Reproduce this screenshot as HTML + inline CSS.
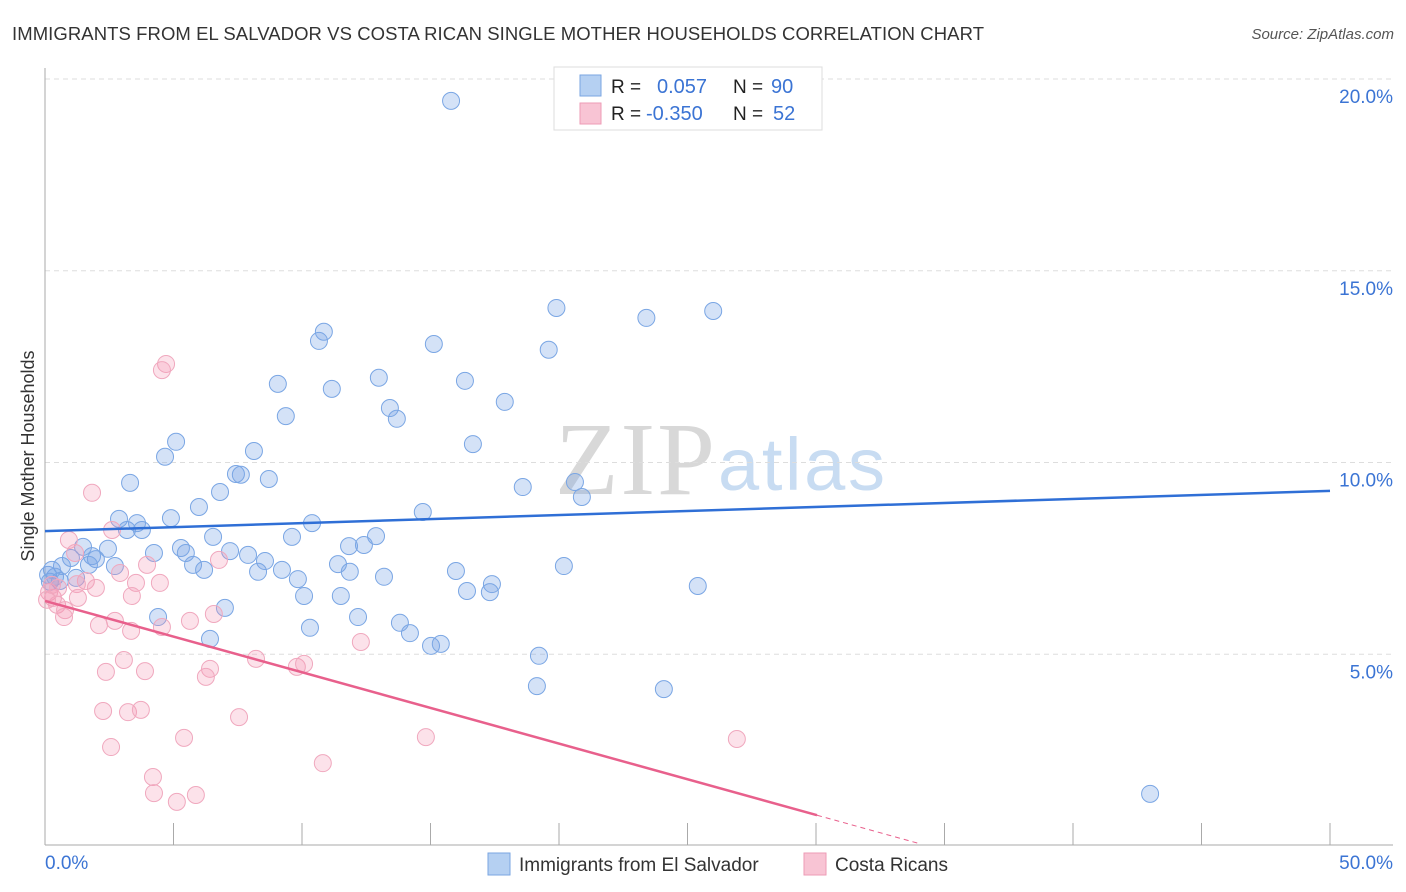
<!DOCTYPE html>
<html><head><meta charset="utf-8">
<style>
body{margin:0;background:#fff;font-family:"Liberation Sans",sans-serif;}
svg{display:block}
</style></head>
<body>
<svg id="chart" width="1406" height="892">
<text x="12" y="40" font-size="18.5" fill="#333" textLength="972">IMMIGRANTS FROM EL SALVADOR VS COSTA RICAN SINGLE MOTHER HOUSEHOLDS CORRELATION CHART</text>
<text x="1394" y="39" font-size="15" fill="#555" font-style="italic" text-anchor="end">Source: ZipAtlas.com</text>
<text x="0" y="0" transform="translate(34,456) rotate(-90)" font-size="18" fill="#333" text-anchor="middle">Single Mother Households</text>
<text x="555" y="494" font-size="104" font-family="Liberation Serif,serif" fill="#d8d8d8" textLength="160">ZIP</text>
<text x="718" y="490" font-size="74" fill="#c8dcf2" textLength="167">atlas</text>
<g id="grid"></g><g id="axes"></g><g id="pts"></g><g id="lines"></g>
<g>
<rect x="554" y="67" width="268" height="63" fill="#fff" stroke="#ddd"/>
<rect x="580" y="75" width="21" height="21" fill="#b5d0f2" stroke="#7aa6e2"/>
<rect x="580" y="103" width="21" height="21" fill="#f8c4d4" stroke="#ee9bb6"/>
<text x="611" y="93" font-size="19" fill="#222">R =</text><text x="657" y="93" font-size="20" fill="#3b74d4">0.057</text>
<text x="733" y="93" font-size="19" fill="#222">N =</text><text x="771" y="93" font-size="20" fill="#3b74d4">90</text>
<text x="611" y="120" font-size="19" fill="#222">R =</text><text x="646" y="120" font-size="20" fill="#3b74d4">-0.350</text>
<text x="733" y="120" font-size="19" fill="#222">N =</text><text x="773" y="120" font-size="20" fill="#3b74d4">52</text>
</g>
<g>
<rect x="488" y="853" width="22" height="22" fill="#b5d0f2" stroke="#7aa6e2"/>
<text x="519" y="871" font-size="19" fill="#333">Immigrants from El Salvador</text>
<rect x="804" y="853" width="22" height="22" fill="#f8c4d4" stroke="#ee9bb6"/>
<text x="835" y="871" font-size="19" fill="#333">Costa Ricans</text>
</g>
</svg>
<script>
const xTicks=[0,5,10,15,20,25,30,35,40,45,50];
const yTicks=[5,10,15,20];
const blueX=[15.8,19.9,23.4,26.0,10.85,10.66,15.13,19.6,9.06,12.99,16.34,11.16,13.42,17.89,9.37,13.69,5.1,16.65,4.67,8.13,7.43,7.62,3.31,8.71,6.81,18.59,20.62,20.89,5.99,14.7,2.88,3.58,4.9,10.39,3.19,3.77,6.54,9.61,12.88,12.41,11.83,2.45,5.29,4.24,7.2,7.9,5.48,1.01,1.98,1.83,1.48,0.66,1.71,2.72,5.76,6.19,8.56,9.22,11.4,8.29,11.86,20.19,15.99,9.84,13.19,17.39,16.42,17.31,25.4,10.08,11.51,1.21,0.39,0.58,0.19,0.12,0.27,7.0,4.4,12.18,13.81,14.2,10.31,6.42,15.02,15.4,19.22,19.14,24.08,43.0];
const blueY=[19.43,14.03,13.77,13.95,13.41,13.17,13.09,12.94,12.05,12.21,12.13,11.92,11.42,11.58,11.21,11.14,10.54,10.48,10.15,10.3,9.7,9.68,9.47,9.57,9.23,9.36,9.49,9.1,8.84,8.71,8.53,8.42,8.55,8.42,8.24,8.24,8.06,8.06,8.08,7.85,7.82,7.75,7.77,7.64,7.69,7.59,7.64,7.51,7.48,7.56,7.8,7.3,7.33,7.3,7.33,7.2,7.43,7.2,7.35,7.15,7.15,7.3,7.17,6.96,7.02,6.83,6.65,6.62,6.78,6.52,6.52,6.99,7.02,6.91,6.89,7.07,7.2,6.21,5.97,5.97,5.82,5.55,5.69,5.4,5.22,5.27,4.96,4.17,4.09,1.36];
const pinkX=[4.71,4.55,1.83,0.93,2.61,1.17,3.97,2.92,1.59,1.24,4.47,3.54,1.98,6.77,0.16,0.31,0.47,0.78,0.74,1.28,3.38,2.1,2.72,3.35,4.55,5.64,6.57,12.29,3.07,3.89,2.37,6.42,6.26,8.21,9.8,10.08,2.26,3.23,3.73,7.55,5.41,2.57,14.82,26.92,10.81,4.2,4.24,5.87,5.13,0.27,0.08,0.51];
const pinkY=[12.57,12.41,9.21,7.98,8.24,7.64,7.33,7.12,6.91,6.83,6.86,6.86,6.73,7.46,6.62,6.47,6.29,6.15,5.97,6.47,6.52,5.76,5.87,5.61,5.71,5.87,6.05,5.32,4.85,4.56,4.54,4.62,4.41,4.88,4.67,4.75,3.52,3.49,3.55,3.36,2.82,2.58,2.84,2.79,2.16,1.8,1.38,1.33,1.15,6.81,6.42,6.73];
const blueTrend=[8.21,9.26];   // y at x=0 and x=50
const pinkTrend=[6.39,-0.186]; // intercept, slope
const pinkSolidEnd=30.04, pinkDashEnd=34.05;

const X0=45,X1=1330,Y0=846,PY=38.35;
const sx=v=>X0+(X1-X0)*v/50, sy=v=>Y0-v*PY;
const NS='http://www.w3.org/2000/svg';
function mk(p,t,a){const e=document.createElementNS(NS,t);for(const k in a)e.setAttribute(k,a[k]);p.appendChild(e);return e;}
const grid=document.getElementById('grid'),axes=document.getElementById('axes'),pts=document.getElementById('pts'),lines=document.getElementById('lines');
yTicks.forEach(t=>{
 const l=mk(grid,'line',{x1:X0,x2:1393,y1:sy(t),y2:sy(t),stroke:'#ddd','stroke-dasharray':'5,4'});
 
 
 const tx=mk(grid,'text',{x:1393,y:sy(t)+24,'font-size':19,fill:'#3b74d4','text-anchor':'end'});
 tx.textContent=t.toFixed(1)+'%';
 
 
});
mk(axes,'line',{x1:X0,x2:X0,y1:68,y2:845,stroke:'#aaa'});
mk(axes,'line',{x1:X0,x2:1393,y1:845,y2:845,stroke:'#aaa'});
xTicks.forEach((t,i)=>{
 if(i>0){const l=mk(axes,'line',{x1:sx(t),x2:sx(t),y1:823,y2:845,stroke:'#aaa'});
 
 }
});
[[0,'start',45],[50,'end',1393]].forEach(([t,a,x])=>{
 const tx=mk(axes,'text',{x:x,y:869,'font-size':19,fill:'#3b74d4','text-anchor':a});
 tx.textContent=t.toFixed(1)+'%';
 
 
});
blueX.forEach((v,i)=>{
 const c=mk(pts,'circle',{cx:sx(v),cy:sy(blueY[i]),r:8.5,fill:'rgba(120,165,230,0.32)',stroke:'#7aa6e4','stroke-width':1});
 
 
});
pinkX.forEach((v,i)=>{
 const c=mk(pts,'circle',{cx:sx(v),cy:sy(pinkY[i]),r:8.5,fill:'rgba(245,150,180,0.28)',stroke:'#f0a8be','stroke-width':1});
 
 
});
const bl=mk(lines,'line',{x1:sx(0),y1:sy(blueTrend[0]),x2:sx(50),y2:sy(blueTrend[1]),stroke:'#2f6fd6','stroke-width':2.5});


const pf=x=>pinkTrend[0]+pinkTrend[1]*x;
const pl=mk(lines,'line',{x1:sx(0),y1:sy(pf(0)),x2:sx(pinkSolidEnd),y2:sy(pf(pinkSolidEnd)),stroke:'#e8608c','stroke-width':2.5});


const pd=mk(lines,'line',{x1:sx(pinkSolidEnd),y1:sy(pf(pinkSolidEnd)),x2:sx(pinkDashEnd),y2:sy(pf(pinkDashEnd)),stroke:'#e8608c','stroke-width':1,'stroke-dasharray':'5,4'});


</script>
</body></html>
